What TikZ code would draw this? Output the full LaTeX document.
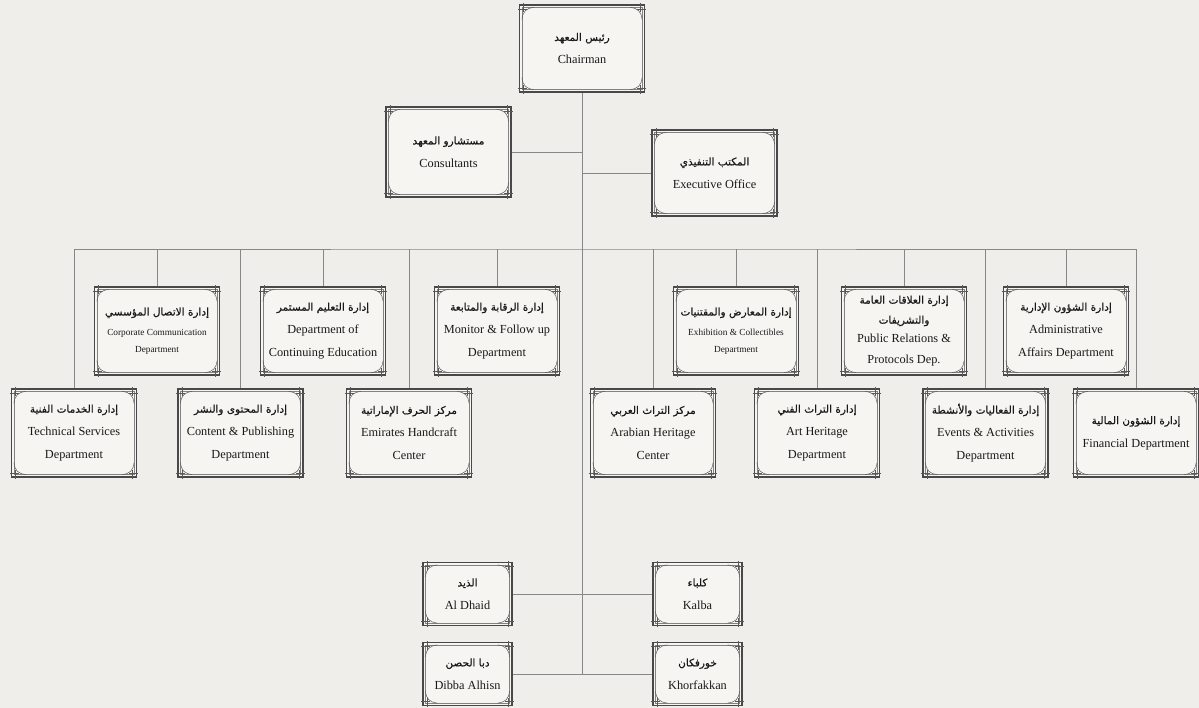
\documentclass[tikz,border=0pt]{standalone}
\usepackage{fontspec}
\setmainfont{Liberation Serif}
\newfontfamily\arabicfont[Script=Arabic,FakeBold=0.6]{DejaVu Sans}
\TeXXeTstate=1
\usetikzlibrary{calc}
\newcommand\artxt[1]{{\arabicfont\fontsize{10.5}{22}\selectfont\beginR #1\endR}}
\newcommand\smalltxt[1]{{\fontsize{9.3}{16}\selectfont #1}}
\definecolor{bgc}{RGB}{240,238,234}
\definecolor{boxfill}{RGB}{246,245,242}
\definecolor{outerc}{RGB}{72,72,72}
\definecolor{innerc}{RGB}{130,130,130}
\definecolor{connc}{RGB}{135,135,135}
\tikzset{
  orgbox/.style={draw=outerc, line width=1.2pt, fill=boxfill, inner sep=0pt,
     minimum width=125, minimum height=88, align=center,
     font=\fontsize{12.3}{23}\selectfont, text=black!90},
  smallbox/.style={orgbox, minimum width=89, minimum height=63},
  conn/.style={draw=connc, line width=0.8pt},
  innerln/.style={draw=innerc, line width=0.6pt},
  ornln/.style={draw=black!65, line width=0.5pt}
}
\begin{document}
\begin{tikzpicture}[x=1pt,y=-1pt]
\fill[bgc] (0,0) rectangle (1199,708);
\useasboundingbox (0,0) rectangle (1199,708);

% top
\node[orgbox, minimum height=87] (chair) at (582,48.5) {\artxt{رئيس المعهد}\\Chairman};
\node[orgbox, minimum height=90] (cons) at (448.5,152) {\artxt{مستشارو المعهد}\\Consultants};
\node[orgbox, minimum height=86] (exec) at (714.5,173) {\artxt{المكتب التنفيذي}\\Executive Office};

% upper row
\node[orgbox] (cc) at (157,331) {\artxt{إدارة الاتصال المؤسسي}\\[-3pt]\smalltxt{Corporate Communication}\\[-6pt]\smalltxt{Department}};
\node[orgbox] (ce) at (323,331) {\artxt{إدارة التعليم المستمر}\\Department of\\Continuing Education};
\node[orgbox] (mf) at (497,331) {\artxt{إدارة الرقابة والمتابعة}\\Monitor \& Follow up\\Department};
\node[orgbox] (ex) at (736,331) {\artxt{إدارة المعارض والمقتنيات}\\[-3pt]\smalltxt{Exhibition \& Collectibles}\\[-6pt]\smalltxt{Department}};
\node[orgbox, font=\fontsize{12.3}{21}\selectfont] (pr) at (904,331) {\artxt{إدارة العلاقات العامة}\\[-1pt]\artxt{والتشريفات}\\[-2pt]Public Relations \&\\Protocols Dep.};
\node[orgbox] (ad) at (1066,331) {\artxt{إدارة الشؤون الإدارية}\\Administrative\\Affairs Department};

% lower row
\node[orgbox] (ts) at (74,433) {\artxt{إدارة الخدمات الفنية}\\Technical Services\\Department};
\node[orgbox] (cp) at (240.5,433) {\artxt{إدارة المحتوى والنشر}\\Content \& Publishing\\Department};
\node[orgbox] (eh) at (409,433) {\artxt{مركز الحرف الإماراتية}\\Emirates Handcraft\\Center};
\node[orgbox] (ah) at (653,433) {\artxt{مركز التراث العربي}\\Arabian Heritage\\Center};
\node[orgbox] (art) at (817,433) {\artxt{إدارة التراث الفني}\\Art Heritage\\Department};
\node[orgbox] (ev) at (985.5,433) {\artxt{إدارة الفعاليات والأنشطة}\\Events \& Activities\\Department};
\node[orgbox] (fin) at (1136,433) {\artxt{إدارة الشؤون المالية}\\Financial Department};

% bottom
\node[smallbox] (dh) at (467.5,594) {\artxt{الذيد}\\Al Dhaid};
\node[smallbox] (ka) at (697.5,594) {\artxt{كلباء}\\Kalba};
\node[smallbox] (db) at (467.5,674) {\artxt{دبا الحصن}\\Dibba Alhisn};
\node[smallbox] (kh) at (697.5,674) {\artxt{خورفكان}\\Khorfakkan};

% ornaments
\foreach \n in {chair,cons,exec,cc,ce,mf,ex,pr,ad,ts,cp,eh,ah,art,ev,fin,dh,ka,db,kh}{
  \coordinate (nw) at (\n.north west);
  \coordinate (ne) at (\n.north east);
  \coordinate (sw) at (\n.south west);
  \coordinate (se) at (\n.south east);
  \draw[innerln] ($(nw)+(3,3)$) rectangle ($(se)+(-3,-3)$);
  \draw[ornln] ($(nw)+(-1,4.5)$) -- ($(nw)+(8,4.5)$) ($(nw)+(4.5,-1)$) -- ($(nw)+(4.5,8)$);
  \draw[ornln] ($(ne)+(1,4.5)$) -- ($(ne)+(-8,4.5)$) ($(ne)+(-4.5,-1)$) -- ($(ne)+(-4.5,8)$);
  \draw[ornln] ($(sw)+(-1,-4.5)$) -- ($(sw)+(8,-4.5)$) ($(sw)+(4.5,1)$) -- ($(sw)+(4.5,-8)$);
  \draw[ornln] ($(se)+(1,-4.5)$) -- ($(se)+(-8,-4.5)$) ($(se)+(-4.5,1)$) -- ($(se)+(-4.5,-8)$);
  \draw[ornln] ($(nw)+(3,15)$) .. controls ($(nw)+(4,7)$) and ($(nw)+(7,4)$) .. ($(nw)+(15,3)$);
  \draw[ornln] ($(ne)+(-3,15)$) .. controls ($(ne)+(-4,7)$) and ($(ne)+(-7,4)$) .. ($(ne)+(-15,3)$);
  \draw[ornln] ($(sw)+(3,-15)$) .. controls ($(sw)+(4,-7)$) and ($(sw)+(7,-4)$) .. ($(sw)+(15,-3)$);
  \draw[ornln] ($(se)+(-3,-15)$) .. controls ($(se)+(-4,-7)$) and ($(se)+(-7,-4)$) .. ($(se)+(-15,-3)$);
}

% connectors
\coordinate (bus) at (582,249);
\draw[conn] (chair.south) -- (chair.south |- db.east);
\draw[conn] (cons.east) -- (cons.east -| bus);
\draw[conn] (exec.west) -- (exec.west -| bus);
\draw[conn] (ts.north) |- (bus) -| (fin.north);
\foreach \n in {cc,ce,mf,ex,pr,ad,cp,eh,ah,art,ev}{
  \draw[conn] (\n.north) -- (\n.north |- bus);
}
\draw[conn] (dh.east) -- (ka.west);
\draw[conn] (db.east) -- (kh.west);
\end{tikzpicture}
\end{document}
